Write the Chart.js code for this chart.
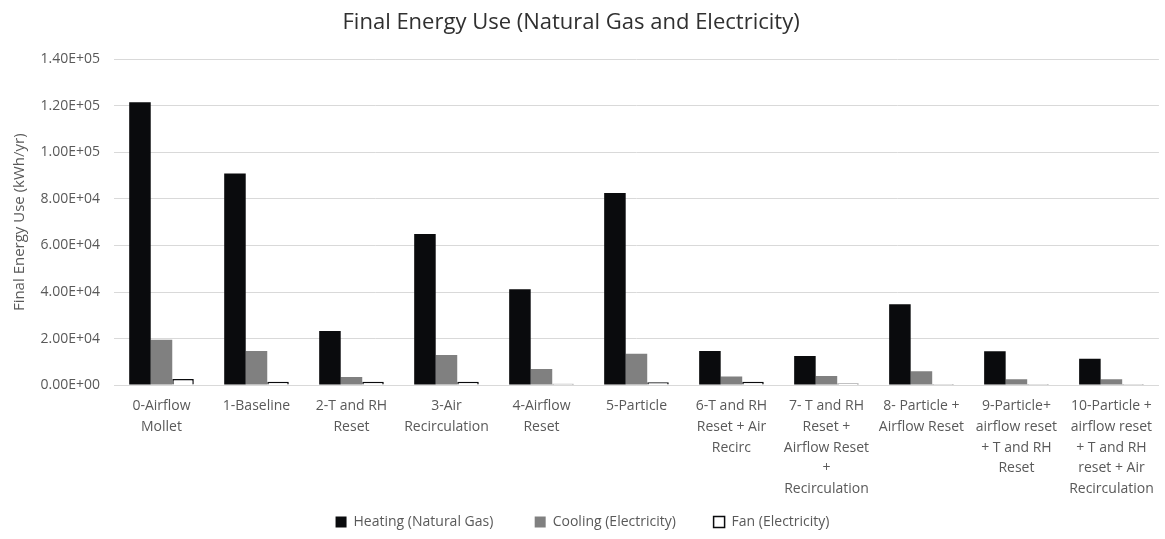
<!DOCTYPE html>
<html>
<head>
<meta charset="utf-8">
<script src="https://cdn.jsdelivr.net/npm/chart.js@4/dist/chart.umd.min.js"></script>
<style>
  html, body { margin: 0; padding: 0; background: #ffffff; }
  #wrap { width: 1165px; height: 539px; position: relative; }
</style>
</head>
<body>
<div id="wrap"><canvas id="chart" width="1165" height="539"></canvas></div>
<script>
// Scenario labels, one array entry per wrapped line
const categories = [
  ["0-Airflow", "Mollet"],
  ["1-Baseline"],
  ["2-T and RH", "Reset"],
  ["3-Air", "Recirculation"],
  ["4-Airflow", "Reset"],
  ["5-Particle"],
  ["6-T and RH", "Reset + Air", "Recirc"],
  ["7- T and RH", "Reset +", "Airflow Reset", "+", "Recirculation"],
  ["8- Particle +", "Airflow Reset"],
  ["9-Particle+", "airflow reset", "+ T and RH", "Reset"],
  ["10-Particle +", "airflow reset", "+ T and RH", "reset + Air", "Recirculation"]
];

// Annual final energy use, kWh/yr
const heatingGas = [121600, 91000, 23300, 64900, 41200, 82600, 14700, 12500, 34800, 14600, 11300];
const coolingElec = [19500, 14700, 3500, 12900, 6900, 13500, 3700, 3900, 6000, 2500, 2500];
const fanElec = [2600, 1400, 1400, 1400, 600, 1200, 1400, 700, 500, 500, 500];

const yTicks = [0, 20000, 40000, 60000, 80000, 100000, 120000, 140000];

const textColor = '#595959';
const gridColor = '#d9d9d9';
const baseFont = '"Open Sans", Lato, sans-serif';

// trailing spaces after each legend entry set the gap to the next one
const legendGaps = ['          ', '         ', ''];

new Chart(document.getElementById('chart'), {
  type: 'bar',
  data: {
    labels: categories,
    datasets: [
      { label: 'Heating (Natural Gas)', data: heatingGas, backgroundColor: '#0a0b0d', borderColor: '#0a0b0d', borderWidth: 0 },
      { label: 'Cooling (Electricity)', data: coolingElec, backgroundColor: '#808080', borderColor: '#808080', borderWidth: 0 },
      { label: 'Fan (Electricity)', data: fanElec, backgroundColor: '#ffffff', borderColor: '#0a0b0d', borderWidth: 1.5 }
    ]
  },
  options: {
    responsive: false,
    animation: false,
    devicePixelRatio: 1,
    categoryPercentage: 0.68,
    barPercentage: 1.0,
    layout: { padding: { left: 6, right: 6, top: 0, bottom: 0 } },
    plugins: {
      title: {
        display: true,
        // trailing spaces nudge the centred title a little to the left
        text: 'Final Energy Use (Natural Gas and Electricity)    ',
        color: '#303030',
        font: { family: baseFont, size: 22, weight: 'normal', lineHeight: 1.2 },
        padding: { top: 10, bottom: 23 }
      },
      legend: {
        position: 'bottom',
        labels: {
          color: textColor,
          font: { family: baseFont, size: 14 },
          boxWidth: 11,
          boxHeight: 11,
          padding: 5,
          generateLabels(chart) {
            return chart.data.datasets.map((ds, i) => ({
              text: ds.label + legendGaps[i],
              fillStyle: ds.backgroundColor,
              strokeStyle: i === 2 ? '#0a0b0d' : ds.backgroundColor,
              lineWidth: i === 2 ? 1.5 : 0,
              fontColor: textColor,
              hidden: false,
              datasetIndex: i
            }));
          }
        }
      },
      tooltip: { enabled: false }
    },
    scales: {
      x: {
        grid: { display: false, drawTicks: false },
        border: { display: true, color: gridColor, width: 1 },
        ticks: {
          color: textColor,
          font: { family: baseFont, size: 14, lineHeight: 1.47 },
          maxRotation: 0,
          minRotation: 0,
          autoSkip: false,
          padding: 11
        }
      },
      y: {
        min: 0,
        max: 140000,
        afterBuildTicks(axis) { axis.ticks = yTicks.map(v => ({ value: v })); },
        afterFit(axis) { axis.width = 108; },
        grid: { color: gridColor, lineWidth: 1, drawTicks: false },
        border: { display: false },
        ticks: {
          color: textColor,
          font: { family: baseFont, size: 14 },
          padding: 14,
          callback: (v) => Number(v).toExponential(2).toUpperCase().replace(/E\+(\d)$/, 'E+0$1')
        },
        title: {
          display: true,
          text: 'Final Energy Use (kWh/yr)',
          color: textColor,
          font: { family: baseFont, size: 15 },
          padding: { top: 5, bottom: 4 }
        }
      }
    }
  }
});
</script>
</body>
</html>
